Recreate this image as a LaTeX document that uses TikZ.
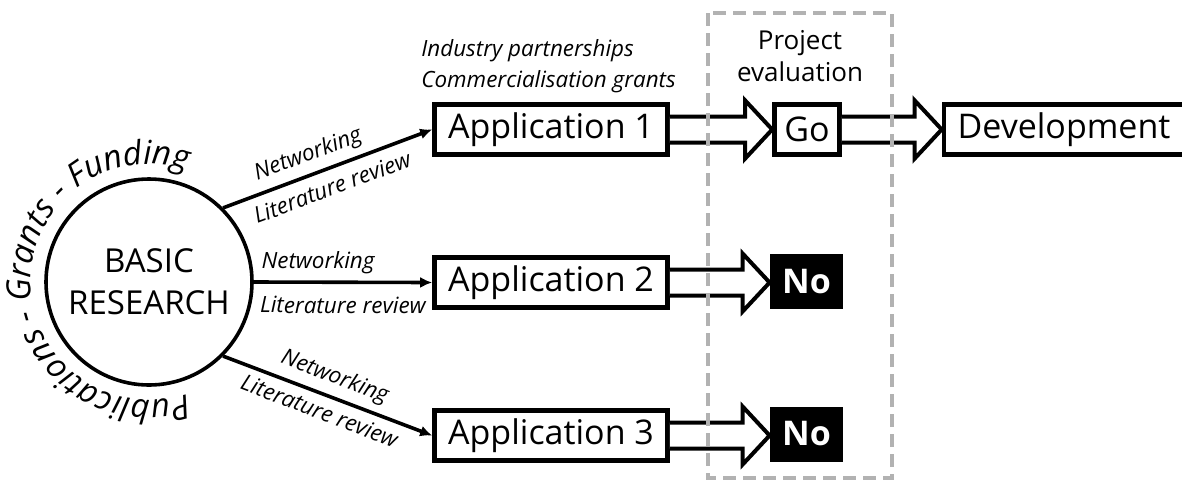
\documentclass[tikz,border=0pt]{standalone}
\usepackage{fontspec}
\setmainfont{Open Sans}
\usetikzlibrary{arrows.meta,positioning,calc,decorations.text}
\tikzset{
  appbox/.style={draw,line width=2.3pt,minimum width=116.5pt,minimum height=25pt,
    inner sep=0pt,font=\fontsize{17}{20}\selectfont},
  gobox/.style={appbox,minimum width=32.5pt},
  nobox/.style={fill=black,text=white,minimum width=36.5pt,minimum height=27.5pt,
    inner sep=0pt,font=\fontsize{17}{20}\selectfont\bfseries},
  researchnode/.style={draw,circle,line width=1.8pt,minimum size=103pt,inner sep=0pt,
    align=center,font=\fontsize{16.5}{21}\selectfont},
  pathlabel/.style={font=\fontsize{11.2}{13}\selectfont\itshape,sloped},
  linkarrow/.style={-{Latex[length=6pt,width=5.5pt]},line width=1.8pt},
  blockarrow/.style={draw,fill=white,line width=2pt},
  evalframe/.style={draw=black!30,dash pattern=on 6.5pt off 3.5pt,line width=1.6pt},
  notelabel/.style={font=\fontsize{11.2}{15.5}\selectfont\itshape,align=left,inner sep=0pt},
  headlabel/.style={font=\fontsize{13}{16}\selectfont,align=center}
}
\newcommand{\hollowarrow}[2]{%
  \draw[blockarrow] let \p1=(#1.east), \p2=(#2.west) in
    (\x1,\y1+6.5pt) -- (\x2-13.5pt,\y1+6.5pt) -- (\x2-13.5pt,\y1+14.5pt) -- (\x2,\y1)
    -- (\x2-13.5pt,\y1-14.5pt) -- (\x2-13.5pt,\y1-6.5pt) -- (\x1,\y1-6.5pt);}

\begin{document}
\begin{tikzpicture}[x=0.5pt,y=-0.5pt]
  \useasboundingbox (0,0) rectangle (1182,483);
  % research circle with its caption round it
  \node[researchnode] (research) at (149,282) {BASIC\\RESEARCH};
  \path[decorate,decoration={text along path,text align=center,
      text={|\fontsize{16.5}{19}\selectfont\itshape|Publications - Grants - Funding}}]
    (149,282) ++(70:118) arc[start angle=70,end angle=290,radius=118];
  % applications
  \node[appbox] (app1) at (551,129.5) {Application 1};
  \node[appbox] (app2) at (551,282.5) {Application 2};
  \node[appbox] (app3) at (551,435.5) {Application 3};
  \node[notelabel,anchor=west] (support) at (421,66) {Industry partnerships\\Commercialisation grants};
  % evaluation outcomes
  \node[headlabel] (evalhead) at (800,56) {Project\\evaluation};
  \node[gobox] (go) at (807,129.5) {Go};
  \node[appbox,minimum width=120pt] (dev) at (1064,129.5) {Development};
  \node[nobox] (no2) at (806.5,281.5) {No};
  \node[nobox] (no3) at (806.5,434) {No};
  % links
  \draw[linkarrow] (research.45) --
    node[pathlabel,above,pos=.44] {Networking}
    node[pathlabel,below=1pt,pos=.49] {Literature review} (app1.west);
  \draw[linkarrow] (research.east) --
    node[pathlabel,above,pos=.36] {Networking}
    node[pathlabel,below=3pt,pos=.5] {Literature review} (app2.west);
  \draw[linkarrow] (research.-45) --
    node[pathlabel,above,pos=.5] {Networking}
    node[pathlabel,below,pos=.49] {Literature review} (app3.west);
  \hollowarrow{app1}{go}
  \hollowarrow{app2}{no2}
  \hollowarrow{app3}{no3}
  \hollowarrow{go}{dev}
  \draw[evalframe] (708,13) rectangle (892,478);
\end{tikzpicture}
\end{document}
